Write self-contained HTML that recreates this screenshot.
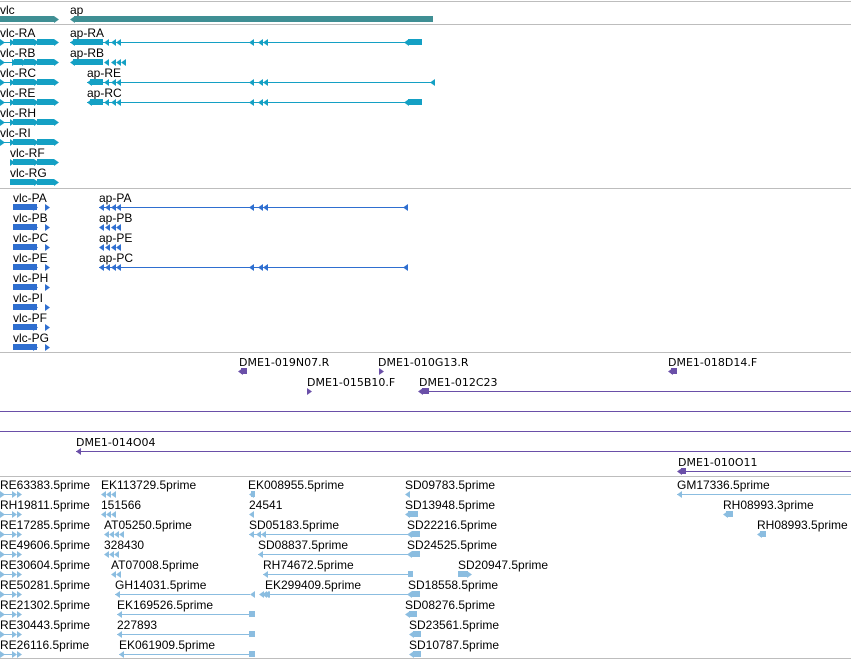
<!DOCTYPE html>
<html><head><meta charset="utf-8"><style>
html,body{margin:0;padding:0;background:#fff;width:851px;height:660px;overflow:hidden}
svg{display:block}
text{font-family:"Liberation Sans",sans-serif;font-size:12px;fill:#000}
.sm{font-family:"DejaVu Sans","Liberation Sans",sans-serif;font-size:11px}
</style></head><body>
<svg id="view" width="851" height="660" viewBox="0 0 851 660" xmlns="http://www.w3.org/2000/svg">
<g id="seps"></g>
<g id="feats"></g>
</svg>
<script>
const NS="http://www.w3.org/2000/svg";
const sepYs=[1,24,188,352,476,658];
// feature: [label, labelX, featureY, lineX1, lineX2, blocks "x:w;...", left-arrows "x;x", right-arrows, color, cls]
const geneTrack=[
 ["vlc",0,19,0,0,"0:54",[],[54],"#3f8f94"],
 ["ap",70,19,0,0,"74:359",[70],[],"#3f8f94"]];
const transcripts=[
 ["vlc-RA",0,42,0,57,"13:21;37:17",[],[0,10,34,54],"#14a0c4"],
 ["vlc-RB",0,62,0,57,"14:8;24:10;37:17",[],[0,12,22,34,54],"#14a0c4"],
 ["vlc-RC",0,82,0,57,"13:21;37:17",[],[0,10,34,54],"#14a0c4"],
 ["vlc-RE",0,102,0,57,"13:21;37:17",[],[0,10,34,54],"#14a0c4"],
 ["vlc-RH",0,122,0,57,"13:21;37:17",[],[0,10,34,54],"#14a0c4"],
 ["vlc-RI",0,142,0,57,"13:21;37:17",[],[0,10,34,54],"#14a0c4"],
 ["vlc-RF",10,162,10,57,"13:21;37:17",[],[10,34,54],"#14a0c4"],
 ["vlc-RG",10,182,10,57,"10:24;37:17",[],[34,54],"#14a0c4"],
 ["ap-RA",70,42,70,422,"73:30;408:14",[70,104,111,116,249,258,263,404],[],"#14a0c4"],
 ["ap-RB",70,62,0,0,"73:30",[70,104,111,116,121],[],"#14a0c4"],
 ["ap-RE",87,82,87,435,"90:13",[87,104,111,116,249,258,263,430],[],"#14a0c4"],
 ["ap-RC",87,102,87,422,"90:13;408:14",[87,104,111,116,249,258,263,404],[],"#14a0c4"]];
const proteins=[];
["PA","PB","PC","PE","PH","PI","PF","PG"].forEach((n,i)=>proteins.push(["vlc-"+n,13,207+20*i,0,0,"13:24",[],[33,45],"#2f6fd0"]));
proteins.push(["ap-PA",99,207,99,408,"",[99,105,111,116,249,258,263,403],[],"#2f6fd0"]);
proteins.push(["ap-PB",99,227,0,0,"",[99,105,111,116],[],"#2f6fd0"]);
proteins.push(["ap-PE",99,247,0,0,"",[99,105,111,116],[],"#2f6fd0"]);
proteins.push(["ap-PC",99,267,99,408,"",[99,105,111,116,249,258,263,403],[],"#2f6fd0"]);
const clones=[
 ["DME1-019N07.R",239,371,0,0,"241:6",[238],[],"#6a4fa8","sm"],
 ["DME1-010G13.R",378,371,0,0,"",[],[379],"#6a4fa8","sm"],
 ["DME1-018D14.F",668,371,0,0,"671:6",[668],[],"#6a4fa8","sm"],
 ["DME1-015B10.F",307,391,0,0,"",[],[307],"#6a4fa8","sm"],
 ["DME1-012C23",419,391,419,851,"422:7",[418],[],"#6a4fa8","sm"],
 ["",0,411,0,851,"",[],[],"#6a4fa8","sm"],
 ["",0,431,0,851,"",[],[],"#6a4fa8","sm"],
 ["DME1-014O04",76,451,76,851,"",[76],[],"#6a4fa8","sm"],
 ["DME1-010O11",678,471,678,851,"681:5",[677],[],"#6a4fa8","sm"]];
const col1=["RE63383.5prime","RH19811.5prime","RE17285.5prime","RE49606.5prime","RE30604.5prime","RE50281.5prime","RE21302.5prime","RE30443.5prime","RE26116.5prime"];
const ests=[];
col1.forEach((n,i)=>ests.push([n,0,494+20*i,0,14,"",[],[0,12,17],"#8bbde0"]));
ests.push(
 ["EK113729.5prime",101,494,0,0,"",[101,106,111],[],"#8bbde0"],
 ["151566",101,514,0,0,"",[101,106,111],[],"#8bbde0"],
 ["AT05250.5prime",104,534,0,0,"",[104,109,114,119],[],"#8bbde0"],
 ["328430",104,554,0,0,"",[104,109,114],[],"#8bbde0"],
 ["AT07008.5prime",111,574,0,0,"",[111,116],[],"#8bbde0"],
 ["GH14031.5prime",115,594,115,250,"",[115,250,259,264],[],"#8bbde0"],
 ["EK169526.5prime",117,614,117,255,"249:6",[117],[],"#8bbde0"],
 ["227893",117,634,117,255,"249:6",[117],[],"#8bbde0"],
 ["EK061909.5prime",119,654,119,255,"249:6",[119],[],"#8bbde0"],
 ["EK008955.5prime",248,494,0,0,"251:4",[249],[],"#8bbde0"],
 ["24541",249,514,0,0,"",[249],[],"#8bbde0"],
 ["SD05183.5prime",249,534,249,420,"412:8",[249,256,261,407],[],"#8bbde0"],
 ["SD08837.5prime",258,554,258,420,"412:8",[258,407],[],"#8bbde0"],
 ["RH74672.5prime",263,574,263,413,"408:5",[263],[],"#8bbde0"],
 ["EK299409.5prime",265,594,265,420,"412:8",[265,262,407],[],"#8bbde0"],
 ["SD09783.5prime",405,494,0,0,"",[405],[],"#8bbde0"],
 ["SD13948.5prime",405,514,0,0,"408:10",[405],[],"#8bbde0"],
 ["SD22216.5prime",407,534,0,0,"",[],[],"#8bbde0"],
 ["SD24525.5prime",407,554,0,0,"",[],[],"#8bbde0"],
 ["SD20947.5prime",458,574,0,0,"458:10",[],[467],"#8bbde0"],
 ["SD18558.5prime",408,594,0,0,"",[],[],"#8bbde0"],
 ["SD08276.5prime",405,614,0,0,"409:8",[405],[],"#8bbde0"],
 ["SD23561.5prime",409,634,0,0,"413:8",[409],[],"#8bbde0"],
 ["SD10787.5prime",409,654,0,0,"413:8",[409],[],"#8bbde0"],
 ["GM17336.5prime",677,494,677,851,"",[677],[],"#8bbde0"],
 ["RH08993.3prime",723,514,0,0,"726:7",[723],[],"#8bbde0"],
 ["RH08993.5prime",757,534,0,0,"760:6",[757],[],"#8bbde0"]);
const svgEl=document.getElementById('view');
const sepG=document.getElementById('seps');
const fG=document.getElementById('feats');
function mk(t,a,p){const e=document.createElementNS(NS,t);for(const k in a)e.setAttribute(k,a[k]);p.appendChild(e);return e;}
sepYs.forEach(y=>{
 const l=mk('line',{x1:0,x2:851,y1:y+0.5,y2:y+0.5,stroke:'#bdbdbd','stroke-width':1},sepG);
 
 
});
function draw(list,track){
 list.forEach(f=>{
  const [lab,lx,y,x1,x2,blocks,la,ra,col,cls]=f;
  const g=mk('g',{},fG);
  
  
  if(lab){const t=mk('text',{x:lx,y:y-5,class:cls||''},g);t.textContent=lab;}
  if(x2>x1) mk('line',{x1:x1,x2:x2,y1:y+0.5,y2:y+0.5,stroke:col,'stroke-width':1},g);
  if(blocks) blocks.split(';').forEach(b=>{const [x,w]=b.split(':').map(Number);
   mk('rect',{x:x,y:y-3,width:w,height:track==='gene'?6:6,fill:col},g);});
  la.forEach(x=>mk('polygon',{points:`${x},${y+0.5} ${x+5},${y-3} ${x+5},${y+4}`,fill:col},g));
  ra.forEach(x=>mk('polygon',{points:`${x+5},${y+0.5} ${x},${y-3} ${x},${y+4}`,fill:col},g));
 });
}
draw(geneTrack,'gene');draw(transcripts,'transcript');draw(proteins,'protein');
draw(clones,'clone');draw(ests,'est');
</script>
</body></html>
